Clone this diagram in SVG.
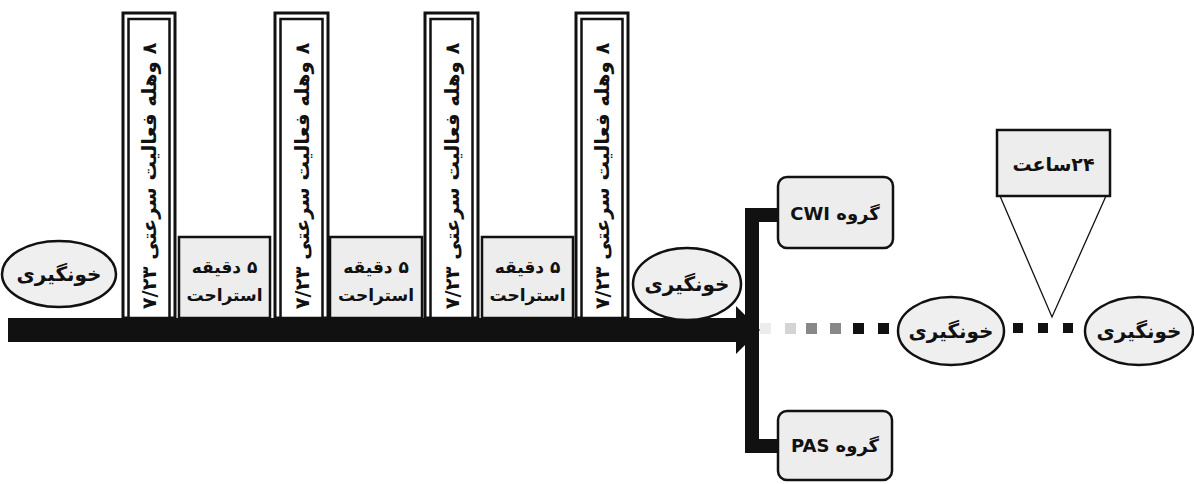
<svg xmlns="http://www.w3.org/2000/svg" width="1194" height="484" viewBox="0 0 1194 484">
<defs>
<style>
.t{font-family:"DejaVu Sans","Noto Sans",sans-serif;font-weight:bold;fill:#111;text-anchor:middle;direction:rtl}
.vt{font-size:19.5px}
.et{font-size:20px}
.rt{font-size:17px}
.box{fill:#ededed;stroke:#111;stroke-width:2.5}
.ell{fill:#efefef;stroke:#111;stroke-width:2.5}
.outer{fill:#fff;stroke:#111;stroke-width:3}
.inner{fill:#fff;stroke:#111;stroke-width:2.5}
.sq{fill:#111}
</style>
</defs>
<rect width="1194" height="484" fill="#fff"/>

<g id="connectors">
<rect x="8" y="318" width="732" height="24" fill="#111"/>
<polygon points="736,306 760,330 736,354" fill="#111"/>
<path d="M752,452 V215 H780" fill="none" stroke="#111" stroke-width="14"/>
<path d="M752,215 V446 H780" fill="none" stroke="#111" stroke-width="14"/>
<rect x="760" y="323" width="11" height="11" class="sq" opacity="0.08"/>
<rect x="785" y="323" width="11" height="11" class="sq" opacity="0.18"/>
<rect x="806" y="323" width="11" height="11" class="sq" opacity="0.5"/>
<rect x="830" y="323" width="11" height="11" class="sq" opacity="0.5"/>
<rect x="853" y="323" width="11" height="11" class="sq"/>
<rect x="878" y="323" width="11" height="11" class="sq"/>
<rect x="1013" y="323" width="10" height="10" class="sq"/>
<rect x="1038" y="323" width="10" height="10" class="sq"/>
<rect x="1063" y="323" width="10" height="10" class="sq"/>
<polyline points="1000,196 1052,317 1106,196" fill="none" stroke="#111" stroke-width="1.3"/>
</g>

<g id="blood1">
<ellipse cx="59" cy="274" rx="57" ry="33" class="ell"/>
<text x="59" y="281" class="t et">خونگیری</text>
</g>

<g id="interval1">
<rect x="123" y="13" width="52" height="305" class="outer"/>
<rect x="128.5" y="19" width="41" height="299" class="inner"/>
<text class="t vt" transform="translate(156,176) rotate(-90)">۸ وهله فعالیت سرعتی ۷/۲۳</text>
</g>
<g id="rest1">
<rect x="179" y="237" width="91" height="81" class="box"/>
<text x="224.5" y="273" class="t rt">۵ دقیقه</text>
<text x="224.5" y="301" class="t rt">استراحت</text>
</g>

<g id="interval2">
<rect x="275" y="13" width="53" height="305" class="outer"/>
<rect x="280.5" y="19" width="42" height="299" class="inner"/>
<text class="t vt" transform="translate(308.5,176) rotate(-90)">۸ وهله فعالیت سرعتی ۷/۲۳</text>
</g>
<g id="rest2">
<rect x="330" y="237" width="92" height="81" class="box"/>
<text x="376" y="273" class="t rt">۵ دقیقه</text>
<text x="376" y="301" class="t rt">استراحت</text>
</g>

<g id="interval3">
<rect x="425" y="13" width="53" height="305" class="outer"/>
<rect x="430.5" y="19" width="42" height="299" class="inner"/>
<text class="t vt" transform="translate(458.5,176) rotate(-90)">۸ وهله فعالیت سرعتی ۷/۲۳</text>
</g>
<g id="rest3">
<rect x="482" y="237" width="91" height="81" class="box"/>
<text x="527.5" y="273" class="t rt">۵ دقیقه</text>
<text x="527.5" y="301" class="t rt">استراحت</text>
</g>

<g id="interval4">
<rect x="576" y="13" width="52" height="305" class="outer"/>
<rect x="581.5" y="19" width="41" height="299" class="inner"/>
<text class="t vt" transform="translate(609,176) rotate(-90)">۸ وهله فعالیت سرعتی ۷/۲۳</text>
</g>

<g id="blood2">
<ellipse cx="687" cy="284" rx="54" ry="36" class="ell"/>
<text x="687" y="291" class="t et">خونگیری</text>
</g>

<g id="cwi">
<rect x="778" y="177" width="115" height="71" rx="9" class="box"/>
<text x="835" y="220" class="t" font-size="18">گروه CWI</text>
</g>

<g id="pas">
<rect x="778" y="411" width="114" height="69" rx="9" class="box"/>
<text x="835" y="452" class="t" font-size="18">گروه PAS</text>
</g>

<g id="blood3">
<ellipse cx="951" cy="331" rx="53" ry="34" class="ell"/>
<text x="951" y="338" class="t et">خونگیری</text>
</g>

<g id="blood4">
<ellipse cx="1139" cy="331" rx="54" ry="34" class="ell"/>
<text x="1139" y="338" class="t et">خونگیری</text>
</g>

<g id="hours24">
<rect x="997" y="130" width="113" height="66" class="box"/>
<text x="1053.5" y="171" class="t" font-size="19">۲۴ساعت</text>
</g>
</svg>
